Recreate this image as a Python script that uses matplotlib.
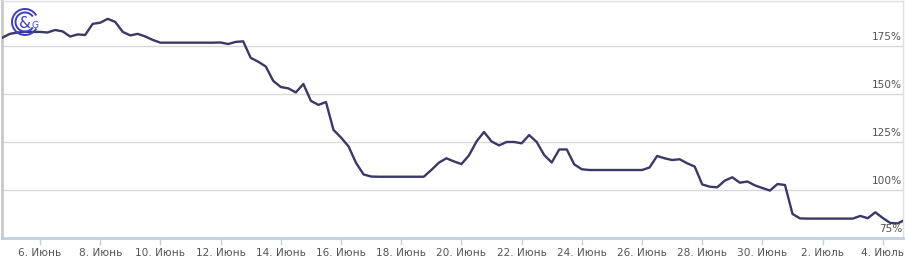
import matplotlib
matplotlib.use("Agg")
import matplotlib.pyplot as plt
from matplotlib.patches import Arc
import numpy as np

# Values sampled every 6 hours, starting June 4, 18:00 (days relative to June 6)
start_day = -1.25
step_day = 0.25
values = [
    179.3, 181.3, 182.0, 182.3, 182.3, 182.3, 182.0, 183.3, 182.6, 179.9,
    181.0, 180.7, 186.5, 187.1, 189.1, 187.5, 182.3, 180.5, 181.3, 179.9,
    178.1, 176.7, 176.7, 176.7, 176.7, 176.7, 176.7, 176.7, 176.7, 176.8,
    176.0, 177.1, 177.4, 168.8, 166.8, 164.3, 156.8, 153.6, 152.9, 150.8,
    155.2, 146.4, 144.3, 145.8, 131.3, 127.3, 122.7, 114.1, 108.1, 107.0,
    106.9, 106.9, 106.9, 106.9, 106.9, 106.9, 106.9, 110.4, 114.2, 116.5,
    114.9, 113.5, 118.0, 125.2, 130.2, 125.3, 123.2, 125.0, 125.0, 124.3,
    128.6, 125.0, 118.2, 114.3, 121.1, 121.1, 113.3, 110.8, 110.4, 110.4,
    110.4, 110.4, 110.4, 110.4, 110.4, 110.4, 111.7, 117.7, 116.5, 115.6,
    116.0, 113.9, 112.2, 102.9, 101.7, 101.4, 104.9, 106.6, 103.8, 104.4,
    102.4, 101.0, 99.7, 103.1, 102.6, 87.5, 85.2, 85.1, 85.1, 85.1,
    85.1, 85.1, 85.1, 85.1, 86.5, 85.3, 88.4, 85.4, 82.8, 82.6,
    84.6,
]
tick_days = [0, 2, 4, 6, 8, 10, 12, 14, 16, 18, 20, 22, 24, 26, 28]
tick_labels = ["6. Июнь", "8. Июнь", "10. Июнь", "12. Июнь", "14. Июнь",
               "16. Июнь", "18. Июнь", "20. Июнь", "22. Июнь", "24. Июнь",
               "26. Июнь", "28. Июнь", "30. Июнь", "2. Июль", "4. Июль"]
y_ticks = [75, 100, 125, 150, 175]
y_labels = ["75%", "100%", "125%", "150%", "175%"]

x = start_day + step_day * np.arange(len(values))

W, H = 905, 266
fig = plt.figure(figsize=(W / 100, H / 100), dpi=100)
ax = fig.add_axes([2 / W, (H - 238) / H, 901 / W, 237 / H])

for yt in y_ticks[1:]:
    ax.axhline(yt, color="#d8d8d8", lw=1.0, zorder=1)

ax.plot(x, values, color="#3b3868", lw=1.7, zorder=3, solid_joinstyle="round")

ax.set_xlim(-1.262, 28.67)
ax.set_ylim(75, 198.4)

ax.set_xticks(tick_days)
ax.set_xticklabels(tick_labels, fontsize=7.6, color="#555555")
ax.tick_params(axis="x", length=5, width=1, color="#c0d0e0", pad=2.5)
ax.set_yticks([])

for s in ["top", "right"]:
    ax.spines[s].set_color("#e0e0e0")
    ax.spines[s].set_linewidth(1.0)
ax.spines["left"].set_color("#c8c8c8")
ax.spines["left"].set_linewidth(2.0)
ax.spines["bottom"].set_color("#c0d0e0")
ax.spines["bottom"].set_linewidth(2.0)

for yt, lab in zip(y_ticks, y_labels):
    ax.annotate(lab, xy=(1, yt), xycoords=("axes fraction", "data"),
                xytext=(-0.5, 3), textcoords="offset points",
                ha="right", va="bottom", fontsize=7.6, color="#555555", zorder=4)

# logo watermark
lax = fig.add_axes([0, 0, 1, 1], facecolor="none")
lax.set_xlim(0, W)
lax.set_ylim(H, 0)
lax.axis("off")
blue = "#3b3fbf"
lax.add_patch(Arc((25, 22), 26, 26, theta1=30, theta2=330, color=blue, lw=1.4))
lax.add_patch(Arc((25, 22), 19, 19, theta1=35, theta2=325, color=blue, lw=1.4))
lax.text(25, 23, "&", ha="center", va="center", fontsize=11, color=blue)
lax.text(35, 26, "G", ha="center", va="center", fontsize=6.5, color=blue)

fig.savefig("out.png", dpi=100)
